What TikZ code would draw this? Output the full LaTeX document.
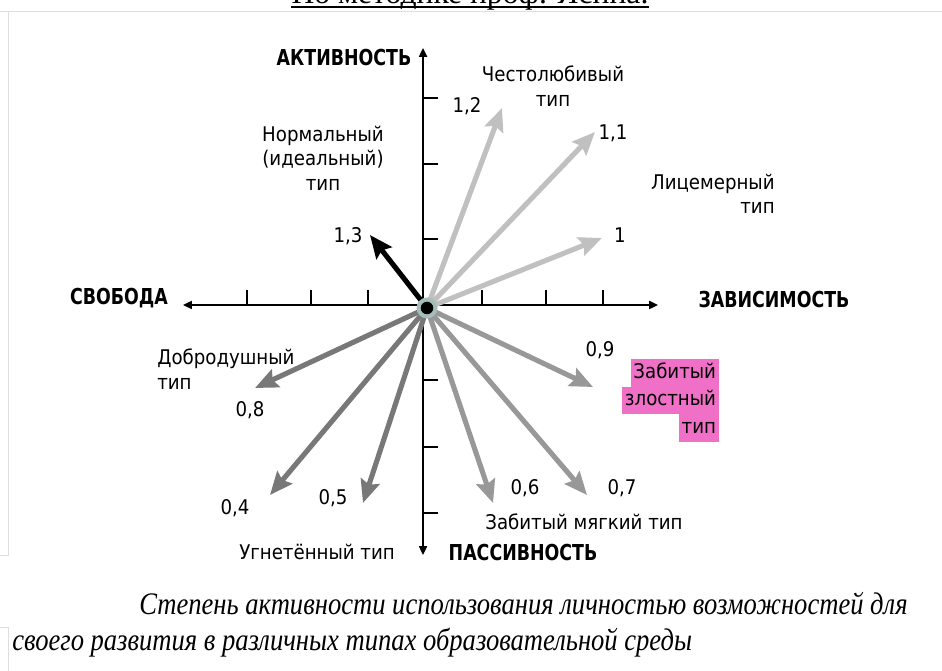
\documentclass[tikz,border=0pt]{standalone}
\usepackage{fontspec}
\setmainfont{DejaVu Sans Condensed}
\newfontfamily\capfont{Liberation Serif}
\usepackage{xcolor}
\usetikzlibrary{arrows.meta}
\definecolor{vlight}{RGB}{192,192,192}
\definecolor{vmid}{RGB}{152,152,152}
\definecolor{vdark}{RGB}{120,120,120}
\definecolor{hlpink}{RGB}{240,112,200}
\definecolor{halo}{RGB}{165,188,188}
\definecolor{frame}{RGB}{222,222,222}

\begin{document}
\begin{tikzpicture}[x=0.02cm, y=-0.02cm,
		axis/.style={line width=1.1pt, {Triangle[length=5pt,width=4.5pt]}-{Triangle[length=5pt,width=4.5pt]}},
		vec/.style={line width=2.9pt, -{Stealth[length=13pt,width=11pt,inset=2pt]}},
		lbl/.style={font=\fontsize{11.5}{14}\selectfont, inner sep=0pt},
		axlbl/.style={font=\fontsize{12.5}{14}\selectfont\bfseries, inner sep=0pt, xscale=0.88},
		pinkbox/.style={lbl, fill=hlpink, inner xsep=1.5pt, inner ysep=1.4pt, text height=9.3pt, text depth=3.4pt, anchor=east},
		captxt/.style={font=\capfont\itshape\fontsize{17.8}{21}\selectfont, inner sep=0pt, anchor=base west, xscale=0.85}]
	\useasboundingbox[fill=white] (0,0) rectangle (942,671);
	\draw[frame] (0,11) -- (942,11);
	\draw[frame] (8,11) -- (8,555) -- (0,555);
	\draw[frame] (0,627) -- (8,627) -- (8,671);
	\node[font=\capfont\fontsize{18}{21}\selectfont, inner sep=0pt, anchor=base] (ttl) at (470,4) {По методике проф. Ясина.};
	\draw[line width=1.3pt] ([yshift=-1.8pt]ttl.base west) -- ([yshift=-1.8pt]ttl.base east);

	\coordinate (o) at (427,308);
	\coordinate (xl) at (183,305);
	\coordinate (xr) at (658,305);
	\coordinate (yt) at (423,48);
	\coordinate (yb) at (423,555);
	\draw[axis] (xl) -- (xr);
	\draw[axis] (yb) -- (yt);
	\foreach \x in {247,311,368,482,546,603}
		\draw[line width=1.1pt] (\x,305) -- (\x,290);
	\foreach \y in {98,164,239,380,447,513}
		\draw[line width=1.1pt] (423,\y) -- (438,\y);

	\foreach \n/\x/\y/\c in {a/502/108/vlight, b/595/132/vlight, c/602/238/vlight,
			d/593/387/vmid, e/587/495/vmid, f/493/503/vmid,
			g/363/503/vdark, h/270/495/vdark, k/255/388/vdark, m/370/235/black} {
		\coordinate (t\n) at (\x,\y);
		\draw[vec, \c] (o) -- (t\n);
	}
	\fill[halo] (o) circle (0.21cm);
	\fill[black] (o) circle (0.125cm);

	\node[axlbl] (act) at (344,58) {АКТИВНОСТЬ};
	\node[axlbl] (free) at (119,298) {СВОБОДА};
	\node[axlbl] (dep) at (774,300) {ЗАВИСИМОСТЬ};
	\node[axlbl] (pas) at (523,553) {ПАССИВНОСТЬ};

	\node[lbl] (n13) at (348,236) {1,3};
	\node[lbl] (n12) at (467,106) {1,2};
	\node[lbl] (n11) at (613,133) {1,1};
	\node[lbl] (n10) at (620,235) {1};
	\node[lbl] (n09) at (600,350) {0,9};
	\node[lbl] (n07) at (622,488) {0,7};
	\node[lbl] (n06) at (525,488) {0,6};
	\node[lbl] (n05) at (333,498) {0,5};
	\node[lbl] (n04) at (235,508) {0,4};
	\node[lbl] (n08) at (250,410) {0,8};

	\node[lbl, align=center] (norm) at (323,158) {Нормальный\\(идеальный)\\тип};
	\node[lbl, align=center] (ambit) at (553,86) {Честолюбивый\\тип};
	\node[lbl, align=right, anchor=east] (hypo) at (775,194) {Лицемерный\\тип};
	\node[lbl, align=left, anchor=west] (kind) at (157,369) {Добродушный\\тип};
	\node[lbl] (opp) at (317,552) {Угнетённый тип};
	\node[lbl] (soft) at (584,522) {Забитый мягкий тип};
	\node[pinkbox] (ev1) at (719,373) {Забитый};
	\node[pinkbox] (ev2) at (719,400.5) {злостный};
	\node[pinkbox] (ev3) at (719,428) {тип};

	\node[captxt] (cap1) at (139,614) {Степень активности использования личностью возможностей для};
	\node[captxt] (cap2) at (12,650) {своего развития в различных типах образовательной среды};
\end{tikzpicture}
\end{document}
